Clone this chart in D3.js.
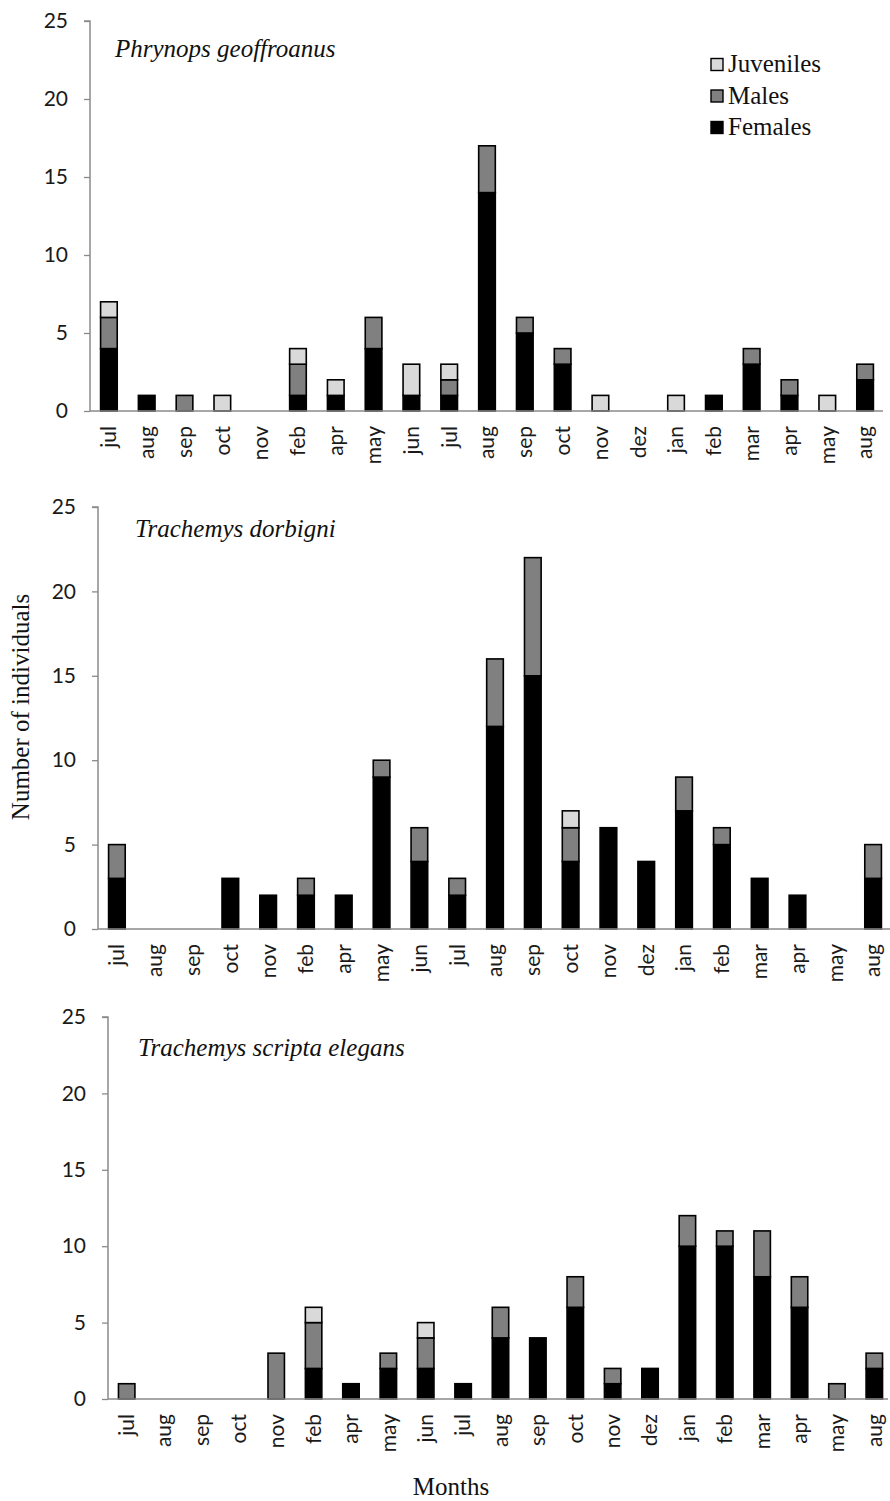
<!DOCTYPE html>
<html><head><meta charset="utf-8">
<script src="https://cdn.jsdelivr.net/npm/d3@7"></script>
<style>body{margin:0;background:#fff}svg{display:block}</style>
</head><body>
<svg id="c" width="890" height="1501"></svg>
<script>
const months = ["jul","aug","sep","oct","nov","feb","apr","may","jun","jul","aug","sep","oct","nov","dez","jan","feb","mar","apr","may","aug"];
const yTicks = [0,5,10,15,20,25];
const seriesNames = ["Females","Males","Juveniles"];
const colors = {Females:"#000000", Males:"#808080", Juveniles:"#d9d9d9"};

// Phrynops geoffroanus
const p1Females   = [4,1,0,0,0,1,1,4,1,1,14,5,3,0,0,0,1,3,1,0,2];
const p1Males     = [2,0,1,0,0,2,0,2,0,1,3,1,1,0,0,0,0,1,1,0,1];
const p1Juveniles = [1,0,0,1,0,1,1,0,2,1,0,0,0,1,0,1,0,0,0,1,0];
// Trachemys dorbigni
const p2Females   = [3,0,0,3,2,2,2,9,4,2,12,15,4,6,4,7,5,3,2,0,3];
const p2Males     = [2,0,0,0,0,1,0,1,2,1,4,7,2,0,0,2,1,0,0,0,2];
const p2Juveniles = [0,0,0,0,0,0,0,0,0,0,0,0,1,0,0,0,0,0,0,0,0];
// Trachemys scripta elegans
const p3Females   = [0,0,0,0,0,2,1,2,2,1,4,4,6,1,2,10,10,8,6,0,2];
const p3Males     = [1,0,0,0,3,3,0,1,2,0,2,0,2,1,0,2,1,3,2,1,1];
const p3Juveniles = [0,0,0,0,0,1,0,0,1,0,0,0,0,0,0,0,0,0,0,0,0];

const panels = [
  {title:"Phrynops geoffroanus", F:p1Females, M:p1Males, J:p1Juveniles,
   x0:90, x1:884, axisEnd:883, yTop:21, yBot:411, tx:115, ty:57, legend:true},
  {title:"Trachemys dorbigni", F:p2Females, M:p2Males, J:p2Juveniles,
   x0:98, x1:892, axisEnd:890, yTop:507, yBot:929, tx:135, ty:537},
  {title:"Trachemys scripta elegans", F:p3Females, M:p3Males, J:p3Juveniles,
   x0:108, x1:893, axisEnd:888, yTop:1017, yBot:1399, tx:138, ty:1056}
];

const svg = d3.select("#c");
const sans = "Lato, 'Open Sans', sans-serif";
const serif = "'Liberation Serif', 'DejaVu Serif', serif";

panels.forEach((p) => {
  const g = svg.append("g");
  const x = d3.scaleBand().domain(d3.range(months.length)).range([p.x0, p.x1])
    .paddingInner(0.56).paddingOuter(0.28);
  const y = d3.scaleLinear().domain([0,25]).range([p.yBot, p.yTop]);

  const rows = months.map((m,i) => ({i, Females:p.F[i], Males:p.M[i], Juveniles:p.J[i]}));
  const stack = d3.stack().keys(seriesNames)(rows);

  stack.forEach(layer => {
    g.append("g").selectAll("rect")
      .data(layer.filter(d => d[1] - d[0] > 0))
      .join("rect")
      .attr("x", d => x(d.data.i))
      .attr("width", x.bandwidth())
      .attr("y", d => y(d[1]))
      .attr("height", d => y(d[0]) - y(d[1]))
      .attr("fill", colors[layer.key])
      .attr("stroke", "#000")
      .attr("stroke-width", 1.6);
  });

  // y axis
  const ya = g.append("g").attr("transform", `translate(${p.x0},0)`)
    .call(d3.axisLeft(y).tickValues(yTicks).tickSize(6).tickPadding(16));
  ya.select(".domain").attr("stroke", "#8a8a8a").attr("stroke-width", 1.5)
    .attr("d", `M-6,${p.yTop}H0V${p.yBot}`);
  ya.selectAll(".tick line").attr("stroke", "#8a8a8a").attr("stroke-width", 1.3);
  ya.selectAll(".tick text").attr("font-family", sans).attr("font-size", 21).attr("fill", "#1a1a1a");

  // x axis
  const xa = g.append("g").attr("transform", `translate(0,${p.yBot})`)
    .call(d3.axisBottom(x).tickSize(0).tickFormat(i => months[i]));
  xa.select(".domain").attr("stroke", "#8a8a8a").attr("stroke-width", 1.5)
    .attr("d", `M${p.x0},0H${p.axisEnd}`);
  xa.selectAll(".tick text")
    .attr("font-family", sans).attr("font-size", 21).attr("fill", "#1a1a1a")
    .attr("text-anchor", "end")
    .attr("transform", "rotate(-90)")
    .attr("x", -15).attr("y", 0).attr("dy", "0.35em");

  g.append("text").attr("x", p.tx).attr("y", p.ty)
    .attr("font-family", serif).attr("font-style", "italic").attr("font-size", 25)
    .attr("fill", "#111").text(p.title);

  if (p.legend) {
    const items = ["Juveniles","Males","Females"];
    const lg = g.append("g");
    items.forEach((k, j) => {
      const cy = 65 + j * 31.5;
      lg.append("rect").attr("x", 711).attr("y", cy - 6.5).attr("width", 12).attr("height", 12)
        .attr("fill", colors[k]).attr("stroke", "#000").attr("stroke-width", 1.4);
      lg.append("text").attr("x", 728).attr("y", cy + 7)
        .attr("font-family", serif).attr("font-size", 25).attr("fill", "#111").text(k);
    });
  }
});

svg.append("text").attr("transform", "translate(29,707) rotate(-90)")
  .attr("text-anchor", "middle").attr("font-family", serif).attr("font-size", 25)
  .attr("fill", "#111").text("Number of individuals");

svg.append("text").attr("x", 451).attr("y", 1495)
  .attr("text-anchor", "middle").attr("font-family", serif).attr("font-size", 25)
  .attr("fill", "#111").text("Months");
</script>
</body></html>
